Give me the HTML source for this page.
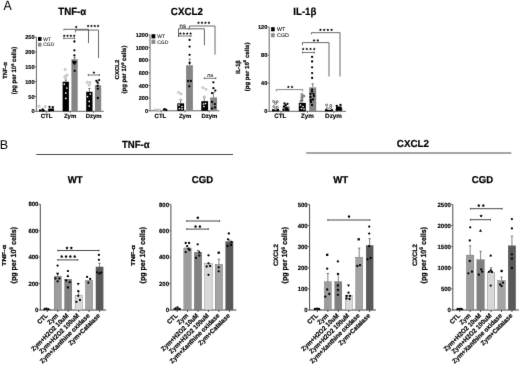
<!DOCTYPE html><html><head><meta charset="utf-8"><style>html,body{margin:0;padding:0;background:#fff;width:520px;height:382px;overflow:hidden}svg{display:block;will-change:transform;text-rendering:geometricPrecision;font-family:"Liberation Sans",sans-serif}</style></head><body>
<svg width="520" height="382" viewBox="0 0 520 382">
<defs><filter id="bl" x="0" y="0" width="1" height="1" color-interpolation-filters="sRGB"><feConvolveMatrix order="3" kernelMatrix="0.0052 0.0619 0.0052 0.0619 0.7314 0.0619 0.0052 0.0619 0.0052" edgeMode="duplicate"/></filter></defs>
<g filter="url(#bl)">
<rect width="520" height="382" fill="#fff"/>
<text x="3.60" y="10.45" font-size="13.6" font-weight="normal" text-anchor="start" fill="#000" textLength="8.2" lengthAdjust="spacingAndGlyphs" >A</text>
<text x="-0.30" y="148.80" font-size="12.6" font-weight="normal" text-anchor="start" fill="#000" >B</text>
<line x1="36.40" y1="111.80" x2="36.40" y2="37.30" stroke="#666" stroke-width="1.0"/>
<line x1="34.70" y1="111.30" x2="36.40" y2="111.30" stroke="#4a4a4a" stroke-width="0.8"/>
<text x="34.50" y="113.32" font-size="5.6" font-weight="bold" text-anchor="end" fill="#000" stroke="#000" stroke-width="0.15" >0</text>
<line x1="34.70" y1="96.50" x2="36.40" y2="96.50" stroke="#4a4a4a" stroke-width="0.8"/>
<text x="34.50" y="98.52" font-size="5.6" font-weight="bold" text-anchor="end" fill="#000" stroke="#000" stroke-width="0.15" >50</text>
<line x1="34.70" y1="81.70" x2="36.40" y2="81.70" stroke="#4a4a4a" stroke-width="0.8"/>
<text x="34.50" y="83.72" font-size="5.6" font-weight="bold" text-anchor="end" fill="#000" stroke="#000" stroke-width="0.15" >100</text>
<line x1="34.70" y1="66.90" x2="36.40" y2="66.90" stroke="#4a4a4a" stroke-width="0.8"/>
<text x="34.50" y="68.92" font-size="5.6" font-weight="bold" text-anchor="end" fill="#000" stroke="#000" stroke-width="0.15" >150</text>
<line x1="34.70" y1="52.10" x2="36.40" y2="52.10" stroke="#4a4a4a" stroke-width="0.8"/>
<text x="34.50" y="54.12" font-size="5.6" font-weight="bold" text-anchor="end" fill="#000" stroke="#000" stroke-width="0.15" >200</text>
<line x1="34.70" y1="37.30" x2="36.40" y2="37.30" stroke="#4a4a4a" stroke-width="0.8"/>
<text x="34.50" y="39.32" font-size="5.6" font-weight="bold" text-anchor="end" fill="#000" stroke="#000" stroke-width="0.15" >250</text>
<line x1="36.40" y1="111.30" x2="103.80" y2="111.30" stroke="#666" stroke-width="1.0"/>
<rect x="39.00" y="110.12" width="6.30" height="1.18" fill="#000"/>
<rect x="47.90" y="108.64" width="6.30" height="2.66" fill="#858585"/>
<rect x="62.60" y="81.70" width="6.30" height="29.60" fill="#000"/>
<rect x="71.40" y="59.20" width="6.30" height="52.10" fill="#858585"/>
<rect x="86.20" y="91.76" width="6.30" height="19.54" fill="#000"/>
<rect x="94.90" y="85.25" width="6.30" height="26.05" fill="#858585"/>
<text x="46.50" y="117.90" font-size="6.0" font-weight="bold" text-anchor="middle" fill="#000" stroke="#000" stroke-width="0.15" >CTL</text>
<line x1="46.60" y1="111.30" x2="46.60" y2="112.80" stroke="#444" stroke-width="0.8"/>
<text x="70.10" y="117.90" font-size="6.0" font-weight="bold" text-anchor="middle" fill="#000" stroke="#000" stroke-width="0.15" >Zym</text>
<line x1="70.15" y1="111.30" x2="70.15" y2="112.80" stroke="#444" stroke-width="0.8"/>
<text x="93.70" y="117.90" font-size="6.0" font-weight="bold" text-anchor="middle" fill="#000" stroke="#000" stroke-width="0.15" >Dzym</text>
<line x1="93.70" y1="111.30" x2="93.70" y2="112.80" stroke="#444" stroke-width="0.8"/>
<rect x="38.00" y="37.00" width="3.50" height="3.90" fill="#000"/>
<rect x="38.00" y="42.70" width="3.50" height="3.90" fill="#8a8a8a"/>
<text x="43.30" y="40.71" font-size="4.9" font-weight="normal" text-anchor="start" fill="#222" stroke="#222" stroke-width="0.12" >WT</text>
<text x="43.30" y="46.41" font-size="4.9" font-weight="normal" text-anchor="start" fill="#333" stroke="#333" stroke-width="0.12" >CGD</text>
<text x="72.25" y="14.75" font-size="10.4" font-weight="bold" text-anchor="middle" fill="#000" stroke="#000" stroke-width="0.2" textLength="28.0" lengthAdjust="spacingAndGlyphs" >TNF-α</text>
<text x="7.40" y="70.50" font-size="5.9" font-weight="bold" text-anchor="middle" fill="#000" stroke="#000" stroke-width="0.22" textLength="16.5" lengthAdjust="spacingAndGlyphs" transform="rotate(-90 7.40 70.50)" >TNF-α</text>
<text x="16.10" y="70.50" font-size="6.3" font-weight="bold" text-anchor="middle" fill="#000" stroke="#000" stroke-width="0.22" textLength="47.7" lengthAdjust="spacingAndGlyphs" transform="rotate(-90 16.10 70.50)" >(pg per 10<tspan font-size="4.2" dy="-2.2">6</tspan><tspan dy="2.2"> cells)</tspan></text>
<line x1="65.80" y1="81.60" x2="65.80" y2="80.00" stroke="#333" stroke-width="0.6"/>
<line x1="64.60" y1="80.00" x2="67.00" y2="80.00" stroke="#333" stroke-width="0.6"/>
<line x1="74.60" y1="59.20" x2="74.60" y2="57.20" stroke="#333" stroke-width="0.6"/>
<line x1="73.40" y1="57.20" x2="75.80" y2="57.20" stroke="#333" stroke-width="0.6"/>
<line x1="89.40" y1="91.80" x2="89.40" y2="88.50" stroke="#333" stroke-width="0.6"/>
<line x1="88.20" y1="88.50" x2="90.60" y2="88.50" stroke="#333" stroke-width="0.6"/>
<line x1="98.00" y1="85.30" x2="98.00" y2="83.50" stroke="#333" stroke-width="0.6"/>
<line x1="96.80" y1="83.50" x2="99.20" y2="83.50" stroke="#333" stroke-width="0.6"/>
<circle cx="39.10" cy="106.20" r="1.03" fill="#fff" stroke="#8a8a8a" stroke-width="0.6"/>
<circle cx="45.20" cy="106.60" r="1.03" fill="#fff" stroke="#8a8a8a" stroke-width="0.6"/>
<circle cx="40.00" cy="110.30" r="1.15" fill="#000"/>
<circle cx="42.50" cy="109.30" r="1.15" fill="#000"/>
<circle cx="43.50" cy="110.40" r="1.15" fill="#000"/>
<circle cx="49.50" cy="106.80" r="1.15" fill="#000"/>
<circle cx="52.80" cy="107.20" r="1.15" fill="#000"/>
<circle cx="50.30" cy="109.80" r="1.15" fill="#000"/>
<circle cx="52.60" cy="109.80" r="1.15" fill="#000"/>
<circle cx="49.30" cy="110.40" r="1.15" fill="#000"/>
<circle cx="65.20" cy="69.50" r="1.03" fill="#fff" stroke="#8a8a8a" stroke-width="0.6"/>
<circle cx="64.70" cy="76.60" r="1.03" fill="#fff" stroke="#8a8a8a" stroke-width="0.6"/>
<circle cx="67.00" cy="75.10" r="1.03" fill="#fff" stroke="#8a8a8a" stroke-width="0.6"/>
<circle cx="65.50" cy="77.80" r="1.03" fill="#fff" stroke="#8a8a8a" stroke-width="0.6"/>
<circle cx="64.30" cy="84.10" r="0.8624999999999999" fill="#fff"/>
<circle cx="65.80" cy="93.10" r="0.8624999999999999" fill="#fff"/>
<circle cx="65.80" cy="98.30" r="0.8624999999999999" fill="#fff"/>
<circle cx="66.80" cy="88.00" r="0.8624999999999999" fill="#fff"/>
<circle cx="74.40" cy="41.50" r="1.15" fill="#000"/>
<circle cx="74.40" cy="50.30" r="1.15" fill="#000"/>
<circle cx="74.40" cy="55.30" r="1.15" fill="#000"/>
<circle cx="73.60" cy="61.70" r="1.15" fill="#000"/>
<circle cx="75.60" cy="62.20" r="1.15" fill="#000"/>
<circle cx="74.50" cy="63.70" r="1.15" fill="#000"/>
<circle cx="74.70" cy="70.80" r="1.15" fill="#000"/>
<circle cx="73.50" cy="62.50" r="1.15" fill="#000"/>
<circle cx="87.20" cy="82.40" r="1.03" fill="#fff" stroke="#8a8a8a" stroke-width="0.6"/>
<circle cx="90.10" cy="82.40" r="1.03" fill="#fff" stroke="#8a8a8a" stroke-width="0.6"/>
<circle cx="89.20" cy="85.30" r="1.03" fill="#fff" stroke="#8a8a8a" stroke-width="0.6"/>
<circle cx="90.30" cy="94.00" r="0.8624999999999999" fill="#fff"/>
<circle cx="87.50" cy="96.60" r="0.8624999999999999" fill="#fff"/>
<circle cx="89.20" cy="101.40" r="0.8624999999999999" fill="#fff"/>
<circle cx="89.20" cy="106.00" r="0.8624999999999999" fill="#fff"/>
<circle cx="96.40" cy="80.90" r="1.15" fill="#000"/>
<circle cx="99.10" cy="80.10" r="1.15" fill="#000"/>
<circle cx="97.60" cy="82.40" r="1.15" fill="#000"/>
<circle cx="97.60" cy="85.90" r="1.15" fill="#000"/>
<circle cx="97.80" cy="88.80" r="1.15" fill="#000"/>
<circle cx="97.80" cy="98.00" r="1.15" fill="#000"/>
<rect x="48.60" y="108.60" width="5.20" height="2.50" fill="#000"/>
<line x1="63.80" y1="38.30" x2="74.60" y2="38.30" stroke="#555" stroke-width="0.8"/>
<line x1="63.80" y1="37.40" x2="63.80" y2="39.20" stroke="#333" stroke-width="0.8"/>
<line x1="74.60" y1="37.40" x2="74.60" y2="39.20" stroke="#333" stroke-width="0.8"/>
<polygon points="64.20,34.30 64.65,35.19 65.63,35.34 64.92,36.03 65.09,37.01 64.20,36.55 63.32,37.01 63.49,36.03 62.78,35.34 63.76,35.19" fill="#000"/>
<polygon points="67.53,34.30 67.98,35.19 68.96,35.34 68.25,36.03 68.42,37.01 67.53,36.55 66.65,37.01 66.82,36.03 66.11,35.34 67.09,35.19" fill="#000"/>
<polygon points="70.86,34.30 71.31,35.19 72.29,35.34 71.58,36.03 71.75,37.01 70.86,36.55 69.98,37.01 70.15,36.03 69.44,35.34 70.42,35.19" fill="#000"/>
<polygon points="74.19,34.30 74.64,35.19 75.62,35.34 74.91,36.03 75.08,37.01 74.19,36.55 73.31,37.01 73.48,36.03 72.77,35.34 73.75,35.19" fill="#000"/>
<polyline points="63.80,30.50 63.80,29.30 88.50,29.30 88.50,43.10" fill="none" stroke="#555" stroke-width="0.9"/>
<polyline points="75.40,32.40 75.40,30.10 98.50,30.10 98.50,58.10" fill="none" stroke="#5a5a5a" stroke-width="0.9"/>
<polygon points="76.20,25.50 76.64,26.39 77.63,26.54 76.91,27.23 77.08,28.21 76.20,27.75 75.32,28.21 75.49,27.23 74.77,26.54 75.76,26.39" fill="#000"/>
<polygon points="88.10,24.50 88.55,25.39 89.53,25.54 88.82,26.23 88.99,27.21 88.10,26.75 87.22,27.21 87.39,26.23 86.68,25.54 87.66,25.39" fill="#000"/>
<polygon points="91.43,24.50 91.88,25.39 92.86,25.54 92.15,26.23 92.32,27.21 91.43,26.75 90.55,27.21 90.72,26.23 90.01,25.54 90.99,25.39" fill="#000"/>
<polygon points="94.76,24.50 95.21,25.39 96.19,25.54 95.48,26.23 95.65,27.21 94.76,26.75 93.88,27.21 94.05,26.23 93.34,25.54 94.32,25.39" fill="#000"/>
<polygon points="98.09,24.50 98.54,25.39 99.52,25.54 98.81,26.23 98.98,27.21 98.09,26.75 97.21,27.21 97.38,26.23 96.67,25.54 97.65,25.39" fill="#000"/>
<line x1="88.30" y1="75.00" x2="99.30" y2="75.00" stroke="#555" stroke-width="0.8"/>
<line x1="88.30" y1="74.10" x2="88.30" y2="75.90" stroke="#333" stroke-width="0.8"/>
<line x1="99.30" y1="74.10" x2="99.30" y2="75.90" stroke="#333" stroke-width="0.8"/>
<polygon points="93.90,71.00 94.34,71.89 95.33,72.04 94.61,72.73 94.78,73.71 93.90,73.25 93.02,73.71 93.19,72.73 92.47,72.04 93.46,71.89" fill="#000"/>
<line x1="150.00" y1="111.30" x2="150.00" y2="34.90" stroke="#666" stroke-width="1.0"/>
<line x1="148.30" y1="110.80" x2="150.00" y2="110.80" stroke="#4a4a4a" stroke-width="0.8"/>
<text x="148.10" y="112.82" font-size="5.6" font-weight="bold" text-anchor="end" fill="#000" stroke="#000" stroke-width="0.15" >0</text>
<line x1="148.30" y1="98.15" x2="150.00" y2="98.15" stroke="#4a4a4a" stroke-width="0.8"/>
<text x="148.10" y="100.17" font-size="5.6" font-weight="bold" text-anchor="end" fill="#000" stroke="#000" stroke-width="0.15" >200</text>
<line x1="148.30" y1="85.50" x2="150.00" y2="85.50" stroke="#4a4a4a" stroke-width="0.8"/>
<text x="148.10" y="87.52" font-size="5.6" font-weight="bold" text-anchor="end" fill="#000" stroke="#000" stroke-width="0.15" >400</text>
<line x1="148.30" y1="72.85" x2="150.00" y2="72.85" stroke="#4a4a4a" stroke-width="0.8"/>
<text x="148.10" y="74.87" font-size="5.6" font-weight="bold" text-anchor="end" fill="#000" stroke="#000" stroke-width="0.15" >600</text>
<line x1="148.30" y1="60.20" x2="150.00" y2="60.20" stroke="#4a4a4a" stroke-width="0.8"/>
<text x="148.10" y="62.22" font-size="5.6" font-weight="bold" text-anchor="end" fill="#000" stroke="#000" stroke-width="0.15" >800</text>
<line x1="148.30" y1="47.55" x2="150.00" y2="47.55" stroke="#4a4a4a" stroke-width="0.8"/>
<text x="148.10" y="49.57" font-size="5.6" font-weight="bold" text-anchor="end" fill="#000" stroke="#000" stroke-width="0.15" >1000</text>
<line x1="148.30" y1="34.90" x2="150.00" y2="34.90" stroke="#4a4a4a" stroke-width="0.8"/>
<text x="148.10" y="36.92" font-size="5.6" font-weight="bold" text-anchor="end" fill="#000" stroke="#000" stroke-width="0.15" >1200</text>
<line x1="150.00" y1="110.80" x2="219.40" y2="110.80" stroke="#666" stroke-width="1.0"/>
<rect x="153.20" y="110.55" width="6.80" height="0.25" fill="#000"/>
<rect x="162.20" y="110.04" width="6.80" height="0.76" fill="#858585"/>
<rect x="177.30" y="103.34" width="6.80" height="7.46" fill="#000"/>
<rect x="186.10" y="65.26" width="6.80" height="45.54" fill="#858585"/>
<rect x="201.30" y="101.19" width="6.80" height="9.61" fill="#000"/>
<rect x="210.20" y="97.39" width="6.80" height="13.41" fill="#858585"/>
<text x="160.40" y="117.80" font-size="6.0" font-weight="bold" text-anchor="middle" fill="#000" stroke="#000" stroke-width="0.15" >CTL</text>
<line x1="161.10" y1="110.80" x2="161.10" y2="112.30" stroke="#444" stroke-width="0.8"/>
<text x="185.10" y="117.80" font-size="6.0" font-weight="bold" text-anchor="middle" fill="#000" stroke="#000" stroke-width="0.15" >Zym</text>
<line x1="185.10" y1="110.80" x2="185.10" y2="112.30" stroke="#444" stroke-width="0.8"/>
<text x="209.40" y="117.80" font-size="6.0" font-weight="bold" text-anchor="middle" fill="#000" stroke="#000" stroke-width="0.15" >Dzym</text>
<line x1="209.15" y1="110.80" x2="209.15" y2="112.30" stroke="#444" stroke-width="0.8"/>
<rect x="151.50" y="34.20" width="3.80" height="4.20" fill="#000"/>
<rect x="151.50" y="39.70" width="3.80" height="4.20" fill="#8a8a8a"/>
<text x="157.20" y="38.10" font-size="5.0" font-weight="normal" text-anchor="start" fill="#222" stroke="#222" stroke-width="0.12" >WT</text>
<text x="157.20" y="43.60" font-size="5.0" font-weight="normal" text-anchor="start" fill="#333" stroke="#333" stroke-width="0.12" >CGD</text>
<text x="186.85" y="14.75" font-size="10.4" font-weight="bold" text-anchor="middle" fill="#000" stroke="#000" stroke-width="0.2" textLength="32.0" lengthAdjust="spacingAndGlyphs" >CXCL2</text>
<text x="118.50" y="69.50" font-size="5.6" font-weight="bold" text-anchor="middle" fill="#000" stroke="#000" stroke-width="0.22" textLength="19.8" lengthAdjust="spacingAndGlyphs" transform="rotate(-90 118.50 69.50)" >CXCL2</text>
<text x="126.20" y="69.50" font-size="6.2" font-weight="bold" text-anchor="middle" fill="#000" stroke="#000" stroke-width="0.22" textLength="47.8" lengthAdjust="spacingAndGlyphs" transform="rotate(-90 126.20 69.50)" >(pg per 10<tspan font-size="4.2" dy="-2.2">6</tspan><tspan dy="2.2"> cells)</tspan></text>
<line x1="180.50" y1="103.30" x2="180.50" y2="99.80" stroke="#333" stroke-width="0.6"/>
<line x1="179.30" y1="99.80" x2="181.70" y2="99.80" stroke="#333" stroke-width="0.6"/>
<line x1="189.70" y1="65.00" x2="189.70" y2="59.00" stroke="#333" stroke-width="0.6"/>
<line x1="188.50" y1="59.00" x2="190.90" y2="59.00" stroke="#333" stroke-width="0.6"/>
<line x1="204.30" y1="101.30" x2="204.30" y2="97.00" stroke="#333" stroke-width="0.6"/>
<line x1="203.10" y1="97.00" x2="205.50" y2="97.00" stroke="#333" stroke-width="0.6"/>
<line x1="213.50" y1="97.30" x2="213.50" y2="92.50" stroke="#333" stroke-width="0.6"/>
<line x1="212.30" y1="92.50" x2="214.70" y2="92.50" stroke="#333" stroke-width="0.6"/>
<circle cx="155.10" cy="110.00" r="1.03" fill="#fff" stroke="#8a8a8a" stroke-width="0.6"/>
<circle cx="157.70" cy="110.00" r="1.03" fill="#fff" stroke="#8a8a8a" stroke-width="0.6"/>
<circle cx="159.50" cy="110.20" r="1.03" fill="#fff" stroke="#8a8a8a" stroke-width="0.6"/>
<circle cx="164.00" cy="109.50" r="1.15" fill="#000"/>
<circle cx="166.30" cy="110.00" r="1.15" fill="#000"/>
<circle cx="165.00" cy="109.30" r="1.15" fill="#000"/>
<circle cx="178.50" cy="92.40" r="1.03" fill="#fff" stroke="#8a8a8a" stroke-width="0.6"/>
<circle cx="181.00" cy="93.90" r="1.03" fill="#fff" stroke="#8a8a8a" stroke-width="0.6"/>
<circle cx="181.00" cy="99.90" r="1.03" fill="#fff" stroke="#8a8a8a" stroke-width="0.6"/>
<circle cx="179.00" cy="105.00" r="0.8624999999999999" fill="#fff"/>
<circle cx="182.00" cy="106.50" r="0.8624999999999999" fill="#fff"/>
<circle cx="179.50" cy="108.50" r="0.8624999999999999" fill="#fff"/>
<circle cx="182.00" cy="108.80" r="0.8624999999999999" fill="#fff"/>
<circle cx="189.60" cy="39.90" r="1.15" fill="#000"/>
<circle cx="189.60" cy="46.60" r="1.15" fill="#000"/>
<circle cx="189.60" cy="54.80" r="1.15" fill="#000"/>
<circle cx="189.60" cy="63.00" r="1.15" fill="#000"/>
<circle cx="188.10" cy="81.00" r="1.15" fill="#000"/>
<circle cx="190.90" cy="81.00" r="1.15" fill="#000"/>
<circle cx="189.20" cy="86.30" r="1.15" fill="#000"/>
<circle cx="202.80" cy="87.60" r="1.03" fill="#fff" stroke="#8a8a8a" stroke-width="0.6"/>
<circle cx="205.90" cy="89.30" r="1.03" fill="#fff" stroke="#8a8a8a" stroke-width="0.6"/>
<circle cx="204.30" cy="97.00" r="1.03" fill="#fff" stroke="#8a8a8a" stroke-width="0.6"/>
<circle cx="203.50" cy="104.00" r="0.8624999999999999" fill="#fff"/>
<circle cx="205.50" cy="103.50" r="0.8624999999999999" fill="#fff"/>
<circle cx="204.00" cy="106.50" r="0.8624999999999999" fill="#fff"/>
<circle cx="213.40" cy="82.30" r="1.15" fill="#000"/>
<circle cx="213.40" cy="88.20" r="1.15" fill="#000"/>
<circle cx="215.30" cy="90.60" r="1.15" fill="#000"/>
<circle cx="212.00" cy="93.10" r="1.15" fill="#000"/>
<circle cx="212.00" cy="102.00" r="1.15" fill="#000"/>
<circle cx="214.90" cy="104.10" r="1.15" fill="#000"/>
<circle cx="212.00" cy="108.50" r="1.15" fill="#000"/>
<circle cx="215.00" cy="107.40" r="1.15" fill="#000"/>
<polyline points="178.50,36.00 178.50,28.80 204.40,28.80 204.40,45.30" fill="none" stroke="#555" stroke-width="0.9"/>
<polyline points="189.30,29.70 189.30,26.00 215.00,26.00 215.00,54.70" fill="none" stroke="#5a5a5a" stroke-width="0.9"/>
<text x="182.80" y="28.10" font-size="6.2" font-weight="normal" text-anchor="middle" fill="#222" stroke="#222" stroke-width="0.15" >ns</text>
<polygon points="198.49,21.30 198.94,22.19 199.92,22.34 199.21,23.03 199.38,24.01 198.49,23.55 197.61,24.01 197.78,23.03 197.07,22.34 198.05,22.19" fill="#000"/>
<polygon points="201.96,21.30 202.41,22.19 203.39,22.34 202.68,23.03 202.85,24.01 201.96,23.55 201.08,24.01 201.25,23.03 200.54,22.34 201.52,22.19" fill="#000"/>
<polygon points="205.43,21.30 205.88,22.19 206.86,22.34 206.15,23.03 206.32,24.01 205.43,23.55 204.55,24.01 204.72,23.03 204.01,22.34 204.99,22.19" fill="#000"/>
<polygon points="208.90,21.30 209.35,22.19 210.33,22.34 209.62,23.03 209.79,24.01 208.90,23.55 208.02,24.01 208.19,23.03 207.48,22.34 208.46,22.19" fill="#000"/>
<line x1="178.50" y1="36.00" x2="191.00" y2="36.00" stroke="#555" stroke-width="0.8"/>
<line x1="178.50" y1="35.10" x2="178.50" y2="36.90" stroke="#333" stroke-width="0.8"/>
<line x1="191.00" y1="35.10" x2="191.00" y2="36.90" stroke="#333" stroke-width="0.8"/>
<polygon points="180.40,32.10 180.84,32.99 181.83,33.14 181.11,33.83 181.28,34.81 180.40,34.35 179.52,34.81 179.69,33.83 178.97,33.14 179.96,32.99" fill="#000"/>
<polygon points="183.80,32.10 184.24,32.99 185.23,33.14 184.51,33.83 184.68,34.81 183.80,34.35 182.92,34.81 183.09,33.83 182.37,33.14 183.36,32.99" fill="#000"/>
<polygon points="187.20,32.10 187.64,32.99 188.63,33.14 187.91,33.83 188.08,34.81 187.20,34.35 186.32,34.81 186.49,33.83 185.77,33.14 186.76,32.99" fill="#000"/>
<polygon points="190.60,32.10 191.04,32.99 192.03,33.14 191.31,33.83 191.48,34.81 190.60,34.35 189.72,34.81 189.89,33.83 189.17,33.14 190.16,32.99" fill="#000"/>
<line x1="204.30" y1="78.30" x2="215.80" y2="78.30" stroke="#555" stroke-width="0.8"/>
<line x1="204.30" y1="77.40" x2="204.30" y2="79.20" stroke="#333" stroke-width="0.8"/>
<line x1="215.80" y1="77.40" x2="215.80" y2="79.20" stroke="#333" stroke-width="0.8"/>
<text x="210.30" y="76.90" font-size="5.6" font-weight="normal" text-anchor="middle" fill="#333" stroke="#333" stroke-width="0.12" font-style="italic">ns</text>
<line x1="269.20" y1="111.80" x2="269.20" y2="27.00" stroke="#666" stroke-width="1.0"/>
<line x1="267.50" y1="111.30" x2="269.20" y2="111.30" stroke="#4a4a4a" stroke-width="0.8"/>
<text x="267.30" y="113.32" font-size="5.6" font-weight="bold" text-anchor="end" fill="#000" stroke="#000" stroke-width="0.15" >0</text>
<line x1="267.50" y1="83.20" x2="269.20" y2="83.20" stroke="#4a4a4a" stroke-width="0.8"/>
<text x="267.30" y="85.22" font-size="5.6" font-weight="bold" text-anchor="end" fill="#000" stroke="#000" stroke-width="0.15" >40</text>
<line x1="267.50" y1="55.10" x2="269.20" y2="55.10" stroke="#4a4a4a" stroke-width="0.8"/>
<text x="267.30" y="57.12" font-size="5.6" font-weight="bold" text-anchor="end" fill="#000" stroke="#000" stroke-width="0.15" >80</text>
<line x1="267.50" y1="27.00" x2="269.20" y2="27.00" stroke="#4a4a4a" stroke-width="0.8"/>
<text x="267.30" y="29.02" font-size="5.6" font-weight="bold" text-anchor="end" fill="#000" stroke="#000" stroke-width="0.15" >120</text>
<line x1="269.20" y1="111.30" x2="346.00" y2="111.30" stroke="#666" stroke-width="1.0"/>
<rect x="272.30" y="109.89" width="7.00" height="1.41" fill="#000"/>
<rect x="282.60" y="106.38" width="7.00" height="4.92" fill="#858585"/>
<rect x="298.80" y="102.87" width="7.00" height="8.43" fill="#000"/>
<rect x="309.20" y="87.41" width="7.00" height="23.89" fill="#858585"/>
<rect x="325.30" y="109.89" width="7.00" height="1.41" fill="#000"/>
<rect x="335.50" y="108.49" width="7.00" height="2.81" fill="#858585"/>
<text x="280.30" y="118.30" font-size="6.3" font-weight="bold" text-anchor="middle" fill="#000" stroke="#000" stroke-width="0.15" >CTL</text>
<line x1="280.95" y1="111.30" x2="280.95" y2="112.80" stroke="#444" stroke-width="0.8"/>
<text x="307.40" y="118.30" font-size="6.3" font-weight="bold" text-anchor="middle" fill="#000" stroke="#000" stroke-width="0.15" >Zym</text>
<line x1="307.50" y1="111.30" x2="307.50" y2="112.80" stroke="#444" stroke-width="0.8"/>
<text x="333.50" y="118.30" font-size="6.3" font-weight="bold" text-anchor="middle" fill="#000" stroke="#000" stroke-width="0.15" >Dzym</text>
<line x1="333.90" y1="111.30" x2="333.90" y2="112.80" stroke="#444" stroke-width="0.8"/>
<rect x="271.10" y="27.20" width="3.60" height="4.10" fill="#000"/>
<rect x="271.10" y="33.20" width="3.60" height="4.10" fill="#8a8a8a"/>
<text x="277.10" y="31.16" font-size="5.3" font-weight="normal" text-anchor="start" fill="#222" stroke="#222" stroke-width="0.12" >WT</text>
<text x="277.10" y="37.16" font-size="5.3" font-weight="normal" text-anchor="start" fill="#333" stroke="#333" stroke-width="0.12" >CGD</text>
<text x="304.85" y="14.75" font-size="10.4" font-weight="bold" text-anchor="middle" fill="#000" stroke="#000" stroke-width="0.2" textLength="23.0" lengthAdjust="spacingAndGlyphs" >IL-1β</text>
<text x="240.40" y="67.00" font-size="6.0" font-weight="bold" text-anchor="middle" fill="#000" stroke="#000" stroke-width="0.22" textLength="13.3" lengthAdjust="spacingAndGlyphs" transform="rotate(-90 240.40 67.00)" >IL-1β</text>
<text x="248.70" y="66.90" font-size="5.9" font-weight="bold" text-anchor="middle" fill="#000" stroke="#000" stroke-width="0.22" textLength="48.8" lengthAdjust="spacingAndGlyphs" transform="rotate(-90 248.70 66.90)" >(pg per 10<tspan font-size="4.2" dy="-2.2">6</tspan><tspan dy="2.2"> cells)</tspan></text>
<line x1="312.70" y1="87.10" x2="312.70" y2="83.80" stroke="#333" stroke-width="0.6"/>
<line x1="311.50" y1="83.80" x2="313.90" y2="83.80" stroke="#333" stroke-width="0.6"/>
<line x1="302.20" y1="102.40" x2="302.20" y2="100.50" stroke="#333" stroke-width="0.6"/>
<line x1="301.00" y1="100.50" x2="303.40" y2="100.50" stroke="#333" stroke-width="0.6"/>
<circle cx="273.60" cy="101.40" r="1.03" fill="#fff" stroke="#333" stroke-width="0.7"/>
<circle cx="277.20" cy="101.70" r="1.03" fill="#fff" stroke="#333" stroke-width="0.7"/>
<circle cx="275.50" cy="103.40" r="1.03" fill="#fff" stroke="#333" stroke-width="0.7"/>
<circle cx="273.80" cy="106.60" r="1.03" fill="#fff" stroke="#333" stroke-width="0.7"/>
<circle cx="277.30" cy="107.20" r="1.03" fill="#fff" stroke="#333" stroke-width="0.7"/>
<circle cx="275.60" cy="109.20" r="1.03" fill="#fff" stroke="#333" stroke-width="0.7"/>
<circle cx="273.00" cy="110.20" r="1.15" fill="#000"/>
<circle cx="278.00" cy="110.00" r="1.15" fill="#000"/>
<circle cx="284.50" cy="103.50" r="1.15" fill="#000"/>
<circle cx="287.50" cy="103.80" r="1.15" fill="#000"/>
<circle cx="284.00" cy="106.50" r="1.15" fill="#000"/>
<circle cx="287.30" cy="108.60" r="1.15" fill="#000"/>
<circle cx="283.50" cy="110.00" r="1.15" fill="#000"/>
<circle cx="286.00" cy="110.00" r="1.15" fill="#000"/>
<circle cx="285.80" cy="105.20" r="1.15" fill="#000"/>
<circle cx="286.00" cy="107.80" r="1.15" fill="#000"/>
<circle cx="288.00" cy="110.20" r="1.15" fill="#000"/>
<circle cx="301.90" cy="94.50" r="1.03" fill="#fff" stroke="#333" stroke-width="0.7"/>
<circle cx="301.90" cy="97.00" r="1.03" fill="#fff" stroke="#333" stroke-width="0.7"/>
<circle cx="301.90" cy="99.10" r="1.03" fill="#fff" stroke="#333" stroke-width="0.7"/>
<circle cx="303.90" cy="96.10" r="1.03" fill="#fff" stroke="#333" stroke-width="0.7"/>
<circle cx="301.00" cy="101.20" r="1.03" fill="#fff" stroke="#333" stroke-width="0.7"/>
<circle cx="300.50" cy="105.00" r="0.8624999999999999" fill="#fff"/>
<circle cx="303.00" cy="106.50" r="0.8624999999999999" fill="#fff"/>
<circle cx="301.50" cy="108.50" r="0.8624999999999999" fill="#fff"/>
<circle cx="304.00" cy="109.00" r="0.8624999999999999" fill="#fff"/>
<circle cx="312.10" cy="56.90" r="1.15" fill="#000"/>
<circle cx="312.10" cy="61.50" r="1.15" fill="#000"/>
<circle cx="312.10" cy="67.30" r="1.15" fill="#000"/>
<circle cx="312.10" cy="73.10" r="1.15" fill="#000"/>
<circle cx="312.10" cy="78.00" r="1.15" fill="#000"/>
<circle cx="312.10" cy="89.60" r="1.15" fill="#000"/>
<circle cx="310.50" cy="93.80" r="1.15" fill="#000"/>
<circle cx="313.50" cy="93.80" r="1.15" fill="#000"/>
<circle cx="310.50" cy="97.00" r="1.15" fill="#000"/>
<circle cx="313.00" cy="99.50" r="1.15" fill="#000"/>
<circle cx="311.00" cy="102.00" r="1.15" fill="#000"/>
<circle cx="312.00" cy="105.00" r="1.15" fill="#000"/>
<circle cx="314.00" cy="96.00" r="1.15" fill="#000"/>
<circle cx="312.00" cy="91.50" r="1.15" fill="#000"/>
<circle cx="310.80" cy="100.00" r="1.15" fill="#000"/>
<circle cx="326.60" cy="105.10" r="1.03" fill="#fff" stroke="#333" stroke-width="0.7"/>
<circle cx="330.80" cy="105.40" r="1.03" fill="#fff" stroke="#333" stroke-width="0.7"/>
<circle cx="330.50" cy="107.60" r="1.03" fill="#fff" stroke="#333" stroke-width="0.7"/>
<circle cx="327.20" cy="108.60" r="1.03" fill="#fff" stroke="#333" stroke-width="0.7"/>
<circle cx="326.00" cy="110.20" r="1.15" fill="#000"/>
<circle cx="332.00" cy="110.20" r="1.15" fill="#000"/>
<circle cx="336.80" cy="106.00" r="1.15" fill="#000"/>
<circle cx="340.50" cy="105.00" r="1.15" fill="#000"/>
<circle cx="338.00" cy="108.50" r="1.15" fill="#000"/>
<circle cx="340.50" cy="109.50" r="1.15" fill="#000"/>
<circle cx="336.80" cy="110.00" r="1.15" fill="#000"/>
<rect x="336.00" y="106.50" width="5.70" height="4.20" fill="#000"/>
<polyline points="311.40,34.40 311.40,32.70 340.00,32.70 340.00,76.50" fill="none" stroke="#5a5a5a" stroke-width="0.9"/>
<polygon points="320.45,28.40 320.89,29.29 321.88,29.44 321.16,30.13 321.33,31.11 320.45,30.65 319.57,31.11 319.74,30.13 319.02,29.44 320.01,29.29" fill="#000"/>
<polygon points="324.15,28.40 324.59,29.29 325.58,29.44 324.86,30.13 325.03,31.11 324.15,30.65 323.27,31.11 323.44,30.13 322.72,29.44 323.71,29.29" fill="#000"/>
<polygon points="327.85,28.40 328.29,29.29 329.28,29.44 328.56,30.13 328.73,31.11 327.85,30.65 326.97,31.11 327.14,30.13 326.42,29.44 327.41,29.29" fill="#000"/>
<polygon points="331.55,28.40 331.99,29.29 332.98,29.44 332.26,30.13 332.43,31.11 331.55,30.65 330.67,31.11 330.84,30.13 330.12,29.44 331.11,29.29" fill="#000"/>
<polyline points="302.50,45.20 302.50,42.60 329.00,42.60 329.00,76.50" fill="none" stroke="#5a5a5a" stroke-width="0.9"/>
<polygon points="314.05,38.90 314.49,39.79 315.48,39.94 314.76,40.63 314.93,41.61 314.05,41.15 313.17,41.61 313.34,40.63 312.62,39.94 313.61,39.79" fill="#000"/>
<polygon points="317.75,38.90 318.19,39.79 319.18,39.94 318.46,40.63 318.63,41.61 317.75,41.15 316.87,41.61 317.04,40.63 316.32,39.94 317.31,39.79" fill="#000"/>
<line x1="302.50" y1="52.50" x2="314.30" y2="52.50" stroke="#555" stroke-width="0.8"/>
<line x1="302.50" y1="51.60" x2="302.50" y2="53.40" stroke="#333" stroke-width="0.8"/>
<line x1="314.30" y1="51.60" x2="314.30" y2="53.40" stroke="#333" stroke-width="0.8"/>
<polygon points="303.15,47.60 303.59,48.49 304.58,48.64 303.86,49.33 304.03,50.31 303.15,49.85 302.27,50.31 302.44,49.33 301.72,48.64 302.71,48.49" fill="#000"/>
<polygon points="306.85,47.60 307.29,48.49 308.28,48.64 307.56,49.33 307.73,50.31 306.85,49.85 305.97,50.31 306.14,49.33 305.42,48.64 306.41,48.49" fill="#000"/>
<polygon points="310.55,47.60 310.99,48.49 311.98,48.64 311.26,49.33 311.43,50.31 310.55,49.85 309.67,50.31 309.84,49.33 309.12,48.64 310.11,48.49" fill="#000"/>
<polygon points="314.25,47.60 314.69,48.49 315.68,48.64 314.96,49.33 315.13,50.31 314.25,49.85 313.37,50.31 313.54,49.33 312.82,48.64 313.81,48.49" fill="#000"/>
<polyline points="276.20,91.40 276.20,89.60 302.60,89.60 302.60,91.40" fill="none" stroke="#555" stroke-width="0.7"/>
<polygon points="288.35,85.50 288.79,86.39 289.78,86.54 289.06,87.23 289.23,88.21 288.35,87.75 287.47,88.21 287.64,87.23 286.92,86.54 287.91,86.39" fill="#000"/>
<polygon points="292.05,85.50 292.49,86.39 293.48,86.54 292.76,87.23 292.93,88.21 292.05,87.75 291.17,88.21 291.34,87.23 290.62,86.54 291.61,86.39" fill="#000"/>
<text x="135.85" y="147.60" font-size="10.3" font-weight="bold" text-anchor="middle" fill="#000" stroke="#000" stroke-width="0.2" textLength="27.7" lengthAdjust="spacingAndGlyphs" >TNF-α</text>
<line x1="36.25" y1="154.50" x2="233.00" y2="154.50" stroke="#4a4a4a" stroke-width="1.2"/>
<text x="412.85" y="147.00" font-size="10.2" font-weight="bold" text-anchor="middle" fill="#000" stroke="#000" stroke-width="0.2" textLength="32.0" lengthAdjust="spacingAndGlyphs" >CXCL2</text>
<line x1="306.20" y1="153.00" x2="511.30" y2="153.00" stroke="#4a4a4a" stroke-width="1.2"/>
<text x="75.20" y="182.80" font-size="9.8" font-weight="bold" text-anchor="middle" fill="#000" stroke="#000" stroke-width="0.25" textLength="14.9" lengthAdjust="spacingAndGlyphs" >WT</text>
<text x="202.45" y="183.10" font-size="10.0" font-weight="bold" text-anchor="middle" fill="#000" stroke="#000" stroke-width="0.25" textLength="21.2" lengthAdjust="spacingAndGlyphs" >CGD</text>
<text x="340.75" y="182.80" font-size="9.8" font-weight="bold" text-anchor="middle" fill="#000" stroke="#000" stroke-width="0.25" textLength="14.9" lengthAdjust="spacingAndGlyphs" >WT</text>
<text x="482.45" y="183.10" font-size="10.0" font-weight="bold" text-anchor="middle" fill="#000" stroke="#000" stroke-width="0.25" textLength="21.2" lengthAdjust="spacingAndGlyphs" >CGD</text>
<line x1="40.30" y1="310.50" x2="40.30" y2="204.30" stroke="#4a4a4a" stroke-width="1.0"/>
<line x1="38.60" y1="310.00" x2="40.30" y2="310.00" stroke="#4a4a4a" stroke-width="0.8"/>
<text x="38.40" y="312.16" font-size="6.0" font-weight="bold" text-anchor="end" fill="#000" stroke="#000" stroke-width="0.15" >0</text>
<line x1="38.60" y1="283.57" x2="40.30" y2="283.57" stroke="#4a4a4a" stroke-width="0.8"/>
<text x="38.40" y="285.74" font-size="6.0" font-weight="bold" text-anchor="end" fill="#000" stroke="#000" stroke-width="0.15" >200</text>
<line x1="38.60" y1="257.15" x2="40.30" y2="257.15" stroke="#4a4a4a" stroke-width="0.8"/>
<text x="38.40" y="259.31" font-size="6.0" font-weight="bold" text-anchor="end" fill="#000" stroke="#000" stroke-width="0.15" >400</text>
<line x1="38.60" y1="230.73" x2="40.30" y2="230.73" stroke="#4a4a4a" stroke-width="0.8"/>
<text x="38.40" y="232.89" font-size="6.0" font-weight="bold" text-anchor="end" fill="#000" stroke="#000" stroke-width="0.15" >600</text>
<line x1="38.60" y1="204.30" x2="40.30" y2="204.30" stroke="#4a4a4a" stroke-width="0.8"/>
<text x="38.40" y="206.46" font-size="6.0" font-weight="bold" text-anchor="end" fill="#000" stroke="#000" stroke-width="0.15" >800</text>
<line x1="40.30" y1="310.00" x2="106.20" y2="310.00" stroke="#4a4a4a" stroke-width="1.15"/>
<rect x="43.70" y="309.60" width="7.20" height="0.40" fill="#222" stroke="#555" stroke-width="0.3"/>
<line x1="47.30" y1="310.00" x2="47.30" y2="311.90" stroke="#333" stroke-width="0.9"/>
<text x="48.30" y="316.10" font-size="6.5" font-weight="bold" text-anchor="end" fill="#000" stroke="#000" stroke-width="0.2" textLength="12.05" lengthAdjust="spacingAndGlyphs" transform="rotate(-45 48.30 316.10)" >CTL</text>
<rect x="54.15" y="276.18" width="7.20" height="33.82" fill="#9c9c9c" stroke="#555" stroke-width="0.3"/>
<line x1="57.75" y1="276.18" x2="57.75" y2="273.67" stroke="#333" stroke-width="0.6"/>
<line x1="56.55" y1="273.67" x2="58.95" y2="273.67" stroke="#333" stroke-width="0.6"/>
<line x1="57.75" y1="310.00" x2="57.75" y2="311.90" stroke="#333" stroke-width="0.9"/>
<text x="58.75" y="316.10" font-size="6.5" font-weight="bold" text-anchor="end" fill="#000" stroke="#000" stroke-width="0.2" textLength="12.75" lengthAdjust="spacingAndGlyphs" transform="rotate(-45 58.75 316.10)" >Zym</text>
<rect x="64.60" y="279.21" width="7.20" height="30.79" fill="#818181" stroke="#555" stroke-width="0.3"/>
<line x1="68.20" y1="310.00" x2="68.20" y2="311.90" stroke="#333" stroke-width="0.9"/>
<text x="69.20" y="316.10" font-size="6.5" font-weight="bold" text-anchor="end" fill="#000" stroke="#000" stroke-width="0.2" textLength="50.13" lengthAdjust="spacingAndGlyphs" transform="rotate(-45 69.20 316.10)" >Zym+H2O2 10uM</text>
<rect x="75.05" y="295.07" width="7.20" height="14.93" fill="#d8d8d8" stroke="#555" stroke-width="0.3"/>
<line x1="78.65" y1="295.07" x2="78.65" y2="291.50" stroke="#333" stroke-width="0.6"/>
<line x1="77.45" y1="291.50" x2="79.85" y2="291.50" stroke="#333" stroke-width="0.6"/>
<line x1="78.65" y1="310.00" x2="78.65" y2="311.90" stroke="#333" stroke-width="0.9"/>
<text x="79.65" y="316.10" font-size="6.5" font-weight="bold" text-anchor="end" fill="#000" stroke="#000" stroke-width="0.2" textLength="53.58" lengthAdjust="spacingAndGlyphs" transform="rotate(-45 79.65 316.10)" >Zym+H2O2 100uM</text>
<rect x="85.50" y="280.27" width="7.20" height="29.73" fill="#a3a3a3" stroke="#555" stroke-width="0.3"/>
<line x1="89.10" y1="310.00" x2="89.10" y2="311.90" stroke="#333" stroke-width="0.9"/>
<text x="90.10" y="316.10" font-size="6.5" font-weight="bold" text-anchor="end" fill="#000" stroke="#000" stroke-width="0.2" textLength="67.36" lengthAdjust="spacingAndGlyphs" transform="rotate(-45 90.10 316.10)" >Zym+Xanthine oxidase</text>
<rect x="95.95" y="266.93" width="7.20" height="43.07" fill="#595959" stroke="#555" stroke-width="0.3"/>
<line x1="99.55" y1="266.93" x2="99.55" y2="263.23" stroke="#333" stroke-width="0.6"/>
<line x1="98.35" y1="263.23" x2="100.75" y2="263.23" stroke="#333" stroke-width="0.6"/>
<line x1="99.55" y1="310.00" x2="99.55" y2="311.90" stroke="#333" stroke-width="0.9"/>
<text x="100.55" y="316.10" font-size="6.5" font-weight="bold" text-anchor="end" fill="#000" stroke="#000" stroke-width="0.2" textLength="41.87" lengthAdjust="spacingAndGlyphs" transform="rotate(-45 100.55 316.10)" >Zym+Catalase</text>
<text x="5.70" y="255.40" font-size="5.7" font-weight="bold" text-anchor="middle" fill="#000" stroke="#000" stroke-width="0.22" textLength="21.0" lengthAdjust="spacingAndGlyphs" transform="rotate(-90 5.70 255.40)" >TNF-α</text>
<text x="16.00" y="255.20" font-size="7.5" font-weight="bold" text-anchor="middle" fill="#000" stroke="#000" stroke-width="0.22" textLength="56.4" lengthAdjust="spacingAndGlyphs" transform="rotate(-90 16.00 255.20)" >(pg per 10<tspan font-size="5.2" dy="-2.6">6</tspan><tspan dy="2.6"> cells)</tspan></text>
<circle cx="44.70" cy="309.00" r="1.15" fill="#000"/>
<circle cx="46.50" cy="308.60" r="1.15" fill="#000"/>
<circle cx="48.30" cy="309.20" r="1.15" fill="#000"/>
<circle cx="57.60" cy="265.60" r="1.15" fill="#000"/>
<polygon points="57.60,275.51 59.09,272.86 56.11,272.86" fill="#000"/>
<circle cx="55.50" cy="278.50" r="1.15" fill="#000"/>
<circle cx="59.40" cy="278.50" r="1.15" fill="#000"/>
<circle cx="57.60" cy="281.40" r="1.15" fill="#000"/>
<rect x="66.95" y="270.05" width="1.90" height="1.90" fill="#000"/>
<polygon points="67.90,274.29 69.40,276.94 66.41,276.94" fill="#000"/>
<circle cx="66.10" cy="280.50" r="1.15" fill="#000"/>
<polygon points="69.80,280.29 71.30,282.94 68.30,282.94" fill="#000"/>
<circle cx="67.90" cy="287.50" r="1.15" fill="#000"/>
<polygon points="78.20,285.61 79.70,282.96 76.70,282.96" fill="#000"/>
<circle cx="78.20" cy="291.10" r="1.15" fill="#000"/>
<circle cx="78.20" cy="295.80" r="1.15" fill="#000"/>
<circle cx="76.40" cy="301.80" r="1.15" fill="#000"/>
<circle cx="80.00" cy="300.00" r="1.15" fill="#000"/>
<circle cx="87.10" cy="276.90" r="1.15" fill="#000"/>
<circle cx="90.20" cy="278.90" r="1.15" fill="#000"/>
<circle cx="88.40" cy="282.70" r="1.15" fill="#000"/>
<circle cx="98.90" cy="254.90" r="1.15" fill="#000"/>
<circle cx="98.90" cy="259.80" r="1.15" fill="#000"/>
<circle cx="97.10" cy="272.30" r="1.15" fill="#000"/>
<circle cx="99.40" cy="273.50" r="1.15" fill="#000"/>
<circle cx="101.20" cy="272.60" r="1.15" fill="#000"/>
<line x1="57.80" y1="250.50" x2="99.00" y2="250.50" stroke="#4a4a4a" stroke-width="1.0"/>
<line x1="57.80" y1="249.60" x2="57.80" y2="251.40" stroke="#333" stroke-width="0.8"/>
<line x1="99.00" y1="249.60" x2="99.00" y2="251.40" stroke="#333" stroke-width="0.8"/>
<polygon points="67.00,246.25 67.51,247.29 68.66,247.46 67.83,248.27 68.03,249.42 67.00,248.88 65.97,249.42 66.17,248.27 65.34,247.46 66.49,247.29" fill="#000"/>
<polygon points="71.30,246.25 71.81,247.29 72.96,247.46 72.13,248.27 72.33,249.42 71.30,248.88 70.27,249.42 70.47,248.27 69.64,247.46 70.79,247.29" fill="#000"/>
<line x1="57.80" y1="259.90" x2="77.80" y2="259.90" stroke="#4a4a4a" stroke-width="1.0"/>
<line x1="57.80" y1="259.00" x2="57.80" y2="260.80" stroke="#333" stroke-width="0.8"/>
<line x1="77.80" y1="259.00" x2="77.80" y2="260.80" stroke="#333" stroke-width="0.8"/>
<polygon points="61.71,254.75 62.22,255.79 63.37,255.96 62.54,256.77 62.73,257.92 61.71,257.38 60.68,257.92 60.87,256.77 60.04,255.96 61.19,255.79" fill="#000"/>
<polygon points="66.04,254.75 66.55,255.79 67.70,255.96 66.87,256.77 67.06,257.92 66.04,257.38 65.01,257.92 65.20,256.77 64.37,255.96 65.52,255.79" fill="#000"/>
<polygon points="70.37,254.75 70.88,255.79 72.03,255.96 71.20,256.77 71.39,257.92 70.37,257.38 69.34,257.92 69.53,256.77 68.70,255.96 69.85,255.79" fill="#000"/>
<polygon points="74.70,254.75 75.21,255.79 76.36,255.96 75.53,256.77 75.72,257.92 74.70,257.38 73.67,257.92 73.86,256.77 73.03,255.96 74.18,255.79" fill="#000"/>
<line x1="170.90" y1="310.50" x2="170.90" y2="204.40" stroke="#4a4a4a" stroke-width="1.0"/>
<line x1="169.20" y1="310.00" x2="170.90" y2="310.00" stroke="#4a4a4a" stroke-width="0.8"/>
<text x="169.00" y="312.16" font-size="6.0" font-weight="bold" text-anchor="end" fill="#000" stroke="#000" stroke-width="0.15" >0</text>
<line x1="169.20" y1="283.60" x2="170.90" y2="283.60" stroke="#4a4a4a" stroke-width="0.8"/>
<text x="169.00" y="285.76" font-size="6.0" font-weight="bold" text-anchor="end" fill="#000" stroke="#000" stroke-width="0.15" >200</text>
<line x1="169.20" y1="257.20" x2="170.90" y2="257.20" stroke="#4a4a4a" stroke-width="0.8"/>
<text x="169.00" y="259.36" font-size="6.0" font-weight="bold" text-anchor="end" fill="#000" stroke="#000" stroke-width="0.15" >400</text>
<line x1="169.20" y1="230.80" x2="170.90" y2="230.80" stroke="#4a4a4a" stroke-width="0.8"/>
<text x="169.00" y="232.96" font-size="6.0" font-weight="bold" text-anchor="end" fill="#000" stroke="#000" stroke-width="0.15" >600</text>
<line x1="169.20" y1="204.40" x2="170.90" y2="204.40" stroke="#4a4a4a" stroke-width="0.8"/>
<text x="169.00" y="206.56" font-size="6.0" font-weight="bold" text-anchor="end" fill="#000" stroke="#000" stroke-width="0.15" >800</text>
<line x1="170.90" y1="310.00" x2="236.50" y2="310.00" stroke="#4a4a4a" stroke-width="1.15"/>
<rect x="173.40" y="308.68" width="7.40" height="1.32" fill="#222" stroke="#555" stroke-width="0.3"/>
<line x1="177.10" y1="310.00" x2="177.10" y2="311.90" stroke="#333" stroke-width="0.9"/>
<text x="178.10" y="316.10" font-size="6.5" font-weight="bold" text-anchor="end" fill="#000" stroke="#000" stroke-width="0.2" textLength="12.05" lengthAdjust="spacingAndGlyphs" transform="rotate(-45 178.10 316.10)" >CTL</text>
<rect x="183.85" y="247.96" width="7.40" height="62.04" fill="#9c9c9c" stroke="#555" stroke-width="0.3"/>
<line x1="187.55" y1="310.00" x2="187.55" y2="311.90" stroke="#333" stroke-width="0.9"/>
<text x="188.55" y="316.10" font-size="6.5" font-weight="bold" text-anchor="end" fill="#000" stroke="#000" stroke-width="0.2" textLength="12.75" lengthAdjust="spacingAndGlyphs" transform="rotate(-45 188.55 316.10)" >Zym</text>
<rect x="194.30" y="252.32" width="7.40" height="57.68" fill="#818181" stroke="#555" stroke-width="0.3"/>
<line x1="198.00" y1="252.32" x2="198.00" y2="250.47" stroke="#333" stroke-width="0.6"/>
<line x1="196.80" y1="250.47" x2="199.20" y2="250.47" stroke="#333" stroke-width="0.6"/>
<line x1="198.00" y1="310.00" x2="198.00" y2="311.90" stroke="#333" stroke-width="0.9"/>
<text x="199.00" y="316.10" font-size="6.5" font-weight="bold" text-anchor="end" fill="#000" stroke="#000" stroke-width="0.2" textLength="50.13" lengthAdjust="spacingAndGlyphs" transform="rotate(-45 199.00 316.10)" >Zym+H2O2 10uM</text>
<rect x="204.75" y="263.40" width="7.40" height="46.60" fill="#d8d8d8" stroke="#555" stroke-width="0.3"/>
<line x1="208.45" y1="310.00" x2="208.45" y2="311.90" stroke="#333" stroke-width="0.9"/>
<text x="209.45" y="316.10" font-size="6.5" font-weight="bold" text-anchor="end" fill="#000" stroke="#000" stroke-width="0.2" textLength="53.58" lengthAdjust="spacingAndGlyphs" transform="rotate(-45 209.45 316.10)" >Zym+H2O2 100uM</text>
<rect x="215.20" y="264.33" width="7.40" height="45.67" fill="#a3a3a3" stroke="#555" stroke-width="0.3"/>
<line x1="218.90" y1="264.33" x2="218.90" y2="259.18" stroke="#333" stroke-width="0.6"/>
<line x1="217.70" y1="259.18" x2="220.10" y2="259.18" stroke="#333" stroke-width="0.6"/>
<line x1="218.90" y1="310.00" x2="218.90" y2="311.90" stroke="#333" stroke-width="0.9"/>
<text x="219.90" y="316.10" font-size="6.5" font-weight="bold" text-anchor="end" fill="#000" stroke="#000" stroke-width="0.2" textLength="67.36" lengthAdjust="spacingAndGlyphs" transform="rotate(-45 219.90 316.10)" >Zym+Xanthine oxidase</text>
<rect x="225.65" y="241.62" width="7.40" height="68.38" fill="#595959" stroke="#555" stroke-width="0.3"/>
<line x1="229.35" y1="241.62" x2="229.35" y2="240.04" stroke="#333" stroke-width="0.6"/>
<line x1="228.15" y1="240.04" x2="230.55" y2="240.04" stroke="#333" stroke-width="0.6"/>
<line x1="229.35" y1="310.00" x2="229.35" y2="311.90" stroke="#333" stroke-width="0.9"/>
<text x="230.35" y="316.10" font-size="6.5" font-weight="bold" text-anchor="end" fill="#000" stroke="#000" stroke-width="0.2" textLength="41.87" lengthAdjust="spacingAndGlyphs" transform="rotate(-45 230.35 316.10)" >Zym+Catalase</text>
<text x="135.30" y="255.40" font-size="5.7" font-weight="bold" text-anchor="middle" fill="#000" stroke="#000" stroke-width="0.22" textLength="21.0" lengthAdjust="spacingAndGlyphs" transform="rotate(-90 135.30 255.40)" >TNF-α</text>
<text x="145.30" y="255.20" font-size="7.5" font-weight="bold" text-anchor="middle" fill="#000" stroke="#000" stroke-width="0.22" textLength="56.4" lengthAdjust="spacingAndGlyphs" transform="rotate(-90 145.30 255.20)" >(pg per 10<tspan font-size="5.2" dy="-2.6">6</tspan><tspan dy="2.6"> cells)</tspan></text>
<circle cx="175.50" cy="308.50" r="1.15" fill="#000"/>
<circle cx="177.50" cy="307.50" r="1.15" fill="#000"/>
<circle cx="179.50" cy="308.80" r="1.15" fill="#000"/>
<circle cx="185.70" cy="243.00" r="1.15" fill="#000"/>
<circle cx="189.10" cy="243.00" r="1.15" fill="#000"/>
<circle cx="187.10" cy="246.10" r="1.15" fill="#000"/>
<circle cx="188.50" cy="248.70" r="1.15" fill="#000"/>
<circle cx="185.70" cy="252.10" r="1.15" fill="#000"/>
<circle cx="189.50" cy="250.00" r="1.15" fill="#000"/>
<circle cx="197.70" cy="244.30" r="1.15" fill="#000"/>
<polygon points="199.40,250.59 200.90,253.23 197.91,253.23" fill="#000"/>
<circle cx="199.40" cy="255.60" r="1.15" fill="#000"/>
<circle cx="196.00" cy="257.80" r="1.15" fill="#000"/>
<circle cx="208.50" cy="255.30" r="1.15" fill="#000"/>
<circle cx="208.50" cy="263.30" r="1.15" fill="#000"/>
<circle cx="206.70" cy="266.50" r="1.15" fill="#000"/>
<circle cx="210.10" cy="266.00" r="1.15" fill="#000"/>
<circle cx="208.50" cy="274.80" r="1.15" fill="#000"/>
<rect x="217.55" y="251.55" width="2.30" height="2.30" fill="#000"/>
<circle cx="218.70" cy="267.30" r="1.15" fill="#000"/>
<circle cx="218.70" cy="271.30" r="1.15" fill="#000"/>
<circle cx="228.80" cy="233.50" r="1.15" fill="#000"/>
<circle cx="228.00" cy="239.30" r="1.15" fill="#000"/>
<circle cx="231.50" cy="242.00" r="1.15" fill="#000"/>
<circle cx="227.50" cy="246.00" r="1.15" fill="#000"/>
<circle cx="231.00" cy="245.00" r="1.15" fill="#000"/>
<line x1="186.70" y1="221.00" x2="219.60" y2="221.00" stroke="#4a4a4a" stroke-width="1.0"/>
<line x1="186.70" y1="220.10" x2="186.70" y2="221.90" stroke="#333" stroke-width="0.8"/>
<line x1="219.60" y1="220.10" x2="219.60" y2="221.90" stroke="#333" stroke-width="0.8"/>
<polygon points="197.80,216.05 198.31,217.09 199.46,217.26 198.63,218.07 198.83,219.22 197.80,218.68 196.77,219.22 196.97,218.07 196.14,217.26 197.29,217.09" fill="#000"/>
<line x1="186.70" y1="229.10" x2="208.30" y2="229.10" stroke="#4a4a4a" stroke-width="1.0"/>
<line x1="186.70" y1="228.20" x2="186.70" y2="230.00" stroke="#333" stroke-width="0.8"/>
<line x1="208.30" y1="228.20" x2="208.30" y2="230.00" stroke="#333" stroke-width="0.8"/>
<polygon points="195.60,224.75 196.11,225.79 197.26,225.96 196.43,226.77 196.63,227.92 195.60,227.38 194.57,227.92 194.77,226.77 193.94,225.96 195.09,225.79" fill="#000"/>
<polygon points="199.90,224.75 200.41,225.79 201.56,225.96 200.73,226.77 200.93,227.92 199.90,227.38 198.87,227.92 199.07,226.77 198.24,225.96 199.39,225.79" fill="#000"/>
<line x1="309.60" y1="310.50" x2="309.60" y2="204.40" stroke="#4a4a4a" stroke-width="1.0"/>
<line x1="307.90" y1="310.00" x2="309.60" y2="310.00" stroke="#4a4a4a" stroke-width="0.8"/>
<text x="307.70" y="312.16" font-size="6.0" font-weight="bold" text-anchor="end" fill="#000" stroke="#000" stroke-width="0.15" >0</text>
<line x1="307.90" y1="288.88" x2="309.60" y2="288.88" stroke="#4a4a4a" stroke-width="0.8"/>
<text x="307.70" y="291.04" font-size="6.0" font-weight="bold" text-anchor="end" fill="#000" stroke="#000" stroke-width="0.15" >100</text>
<line x1="307.90" y1="267.76" x2="309.60" y2="267.76" stroke="#4a4a4a" stroke-width="0.8"/>
<text x="307.70" y="269.92" font-size="6.0" font-weight="bold" text-anchor="end" fill="#000" stroke="#000" stroke-width="0.15" >200</text>
<line x1="307.90" y1="246.64" x2="309.60" y2="246.64" stroke="#4a4a4a" stroke-width="0.8"/>
<text x="307.70" y="248.80" font-size="6.0" font-weight="bold" text-anchor="end" fill="#000" stroke="#000" stroke-width="0.15" >300</text>
<line x1="307.90" y1="225.52" x2="309.60" y2="225.52" stroke="#4a4a4a" stroke-width="0.8"/>
<text x="307.70" y="227.68" font-size="6.0" font-weight="bold" text-anchor="end" fill="#000" stroke="#000" stroke-width="0.15" >400</text>
<line x1="307.90" y1="204.40" x2="309.60" y2="204.40" stroke="#4a4a4a" stroke-width="0.8"/>
<text x="307.70" y="206.56" font-size="6.0" font-weight="bold" text-anchor="end" fill="#000" stroke="#000" stroke-width="0.15" >500</text>
<line x1="309.60" y1="310.00" x2="376.00" y2="310.00" stroke="#4a4a4a" stroke-width="1.15"/>
<rect x="313.90" y="309.58" width="7.00" height="0.42" fill="#222" stroke="#555" stroke-width="0.3"/>
<line x1="317.40" y1="310.00" x2="317.40" y2="311.90" stroke="#333" stroke-width="0.9"/>
<text x="318.40" y="316.10" font-size="6.5" font-weight="bold" text-anchor="end" fill="#000" stroke="#000" stroke-width="0.2" textLength="12.05" lengthAdjust="spacingAndGlyphs" transform="rotate(-45 318.40 316.10)" >CTL</text>
<rect x="324.35" y="281.70" width="7.00" height="28.30" fill="#9c9c9c" stroke="#555" stroke-width="0.3"/>
<line x1="327.85" y1="281.70" x2="327.85" y2="273.46" stroke="#333" stroke-width="0.6"/>
<line x1="326.65" y1="273.46" x2="329.05" y2="273.46" stroke="#333" stroke-width="0.6"/>
<line x1="327.85" y1="310.00" x2="327.85" y2="311.90" stroke="#333" stroke-width="0.9"/>
<text x="328.85" y="316.10" font-size="6.5" font-weight="bold" text-anchor="end" fill="#000" stroke="#000" stroke-width="0.2" textLength="12.75" lengthAdjust="spacingAndGlyphs" transform="rotate(-45 328.85 316.10)" >Zym</text>
<rect x="334.80" y="281.70" width="7.00" height="28.30" fill="#818181" stroke="#555" stroke-width="0.3"/>
<line x1="338.30" y1="281.70" x2="338.30" y2="274.10" stroke="#333" stroke-width="0.6"/>
<line x1="337.10" y1="274.10" x2="339.50" y2="274.10" stroke="#333" stroke-width="0.6"/>
<line x1="338.30" y1="310.00" x2="338.30" y2="311.90" stroke="#333" stroke-width="0.9"/>
<text x="339.30" y="316.10" font-size="6.5" font-weight="bold" text-anchor="end" fill="#000" stroke="#000" stroke-width="0.2" textLength="50.13" lengthAdjust="spacingAndGlyphs" transform="rotate(-45 339.30 316.10)" >Zym+H2O2 10uM</text>
<rect x="345.25" y="295.22" width="7.00" height="14.78" fill="#d8d8d8" stroke="#555" stroke-width="0.3"/>
<line x1="348.75" y1="310.00" x2="348.75" y2="311.90" stroke="#333" stroke-width="0.9"/>
<text x="349.75" y="316.10" font-size="6.5" font-weight="bold" text-anchor="end" fill="#000" stroke="#000" stroke-width="0.2" textLength="53.58" lengthAdjust="spacingAndGlyphs" transform="rotate(-45 349.75 316.10)" >Zym+H2O2 100uM</text>
<rect x="355.70" y="257.20" width="7.00" height="52.80" fill="#a3a3a3" stroke="#555" stroke-width="0.3"/>
<line x1="359.20" y1="257.20" x2="359.20" y2="248.12" stroke="#333" stroke-width="0.6"/>
<line x1="358.00" y1="248.12" x2="360.40" y2="248.12" stroke="#333" stroke-width="0.6"/>
<line x1="359.20" y1="310.00" x2="359.20" y2="311.90" stroke="#333" stroke-width="0.9"/>
<text x="360.20" y="316.10" font-size="6.5" font-weight="bold" text-anchor="end" fill="#000" stroke="#000" stroke-width="0.2" textLength="67.36" lengthAdjust="spacingAndGlyphs" transform="rotate(-45 360.20 316.10)" >Zym+Xanthine oxidase</text>
<rect x="366.15" y="245.48" width="7.00" height="64.52" fill="#595959" stroke="#555" stroke-width="0.3"/>
<line x1="369.65" y1="245.48" x2="369.65" y2="238.61" stroke="#333" stroke-width="0.6"/>
<line x1="368.45" y1="238.61" x2="370.85" y2="238.61" stroke="#333" stroke-width="0.6"/>
<line x1="369.65" y1="310.00" x2="369.65" y2="311.90" stroke="#333" stroke-width="0.9"/>
<text x="370.65" y="316.10" font-size="6.5" font-weight="bold" text-anchor="end" fill="#000" stroke="#000" stroke-width="0.2" textLength="41.87" lengthAdjust="spacingAndGlyphs" transform="rotate(-45 370.65 316.10)" >Zym+Catalase</text>
<text x="277.80" y="255.00" font-size="6.4" font-weight="bold" text-anchor="middle" fill="#000" stroke="#000" stroke-width="0.22" textLength="21.9" lengthAdjust="spacingAndGlyphs" transform="rotate(-90 277.80 255.00)" >CXCL2</text>
<text x="287.20" y="255.20" font-size="7.5" font-weight="bold" text-anchor="middle" fill="#000" stroke="#000" stroke-width="0.22" textLength="56.4" lengthAdjust="spacingAndGlyphs" transform="rotate(-90 287.20 255.20)" >(pg per 10<tspan font-size="5.2" dy="-2.6">6</tspan><tspan dy="2.6"> cells)</tspan></text>
<circle cx="315.00" cy="309.00" r="1.15" fill="#000"/>
<circle cx="317.00" cy="308.70" r="1.15" fill="#000"/>
<circle cx="319.00" cy="309.00" r="1.15" fill="#000"/>
<rect x="326.05" y="253.65" width="2.30" height="2.30" fill="#000"/>
<circle cx="327.20" cy="268.70" r="1.15" fill="#000"/>
<circle cx="327.20" cy="289.50" r="1.15" fill="#000"/>
<circle cx="329.30" cy="294.00" r="1.15" fill="#000"/>
<circle cx="325.30" cy="296.70" r="1.15" fill="#000"/>
<polygon points="337.90,259.59 339.39,262.24 336.40,262.24" fill="#000"/>
<circle cx="337.90" cy="274.00" r="1.15" fill="#000"/>
<circle cx="337.90" cy="285.50" r="1.15" fill="#000"/>
<circle cx="337.90" cy="290.00" r="1.15" fill="#000"/>
<circle cx="337.90" cy="294.80" r="1.15" fill="#000"/>
<polygon points="348.50,287.11 350.00,284.46 347.00,284.46" fill="#000"/>
<circle cx="348.50" cy="292.70" r="1.15" fill="#000"/>
<circle cx="346.70" cy="295.90" r="1.15" fill="#000"/>
<circle cx="350.00" cy="296.00" r="1.15" fill="#000"/>
<circle cx="346.50" cy="298.50" r="1.15" fill="#000"/>
<circle cx="349.50" cy="299.00" r="1.15" fill="#000"/>
<rect x="357.55" y="238.15" width="2.30" height="2.30" fill="#000"/>
<circle cx="357.30" cy="266.00" r="1.15" fill="#000"/>
<circle cx="360.00" cy="265.20" r="1.15" fill="#000"/>
<circle cx="369.20" cy="226.60" r="1.15" fill="#000"/>
<circle cx="369.20" cy="233.60" r="1.15" fill="#000"/>
<circle cx="369.20" cy="246.20" r="1.15" fill="#000"/>
<circle cx="367.50" cy="259.30" r="1.15" fill="#000"/>
<circle cx="370.70" cy="258.00" r="1.15" fill="#000"/>
<line x1="327.80" y1="220.00" x2="369.80" y2="220.00" stroke="#4a4a4a" stroke-width="1.0"/>
<line x1="327.80" y1="219.10" x2="327.80" y2="220.90" stroke="#333" stroke-width="0.8"/>
<line x1="369.80" y1="219.10" x2="369.80" y2="220.90" stroke="#333" stroke-width="0.8"/>
<polygon points="349.00,214.75 349.51,215.79 350.66,215.96 349.83,216.77 350.03,217.92 349.00,217.38 347.97,217.92 348.17,216.77 347.34,215.96 348.49,215.79" fill="#000"/>
<line x1="452.80" y1="310.50" x2="452.80" y2="204.40" stroke="#4a4a4a" stroke-width="1.0"/>
<line x1="451.10" y1="310.00" x2="452.80" y2="310.00" stroke="#4a4a4a" stroke-width="0.8"/>
<text x="450.90" y="312.16" font-size="6.0" font-weight="bold" text-anchor="end" fill="#000" stroke="#000" stroke-width="0.15" >0</text>
<line x1="451.10" y1="288.88" x2="452.80" y2="288.88" stroke="#4a4a4a" stroke-width="0.8"/>
<text x="450.90" y="291.04" font-size="6.0" font-weight="bold" text-anchor="end" fill="#000" stroke="#000" stroke-width="0.15" >500</text>
<line x1="451.10" y1="267.76" x2="452.80" y2="267.76" stroke="#4a4a4a" stroke-width="0.8"/>
<text x="450.90" y="269.92" font-size="6.0" font-weight="bold" text-anchor="end" fill="#000" stroke="#000" stroke-width="0.15" >1000</text>
<line x1="451.10" y1="246.64" x2="452.80" y2="246.64" stroke="#4a4a4a" stroke-width="0.8"/>
<text x="450.90" y="248.80" font-size="6.0" font-weight="bold" text-anchor="end" fill="#000" stroke="#000" stroke-width="0.15" >1500</text>
<line x1="451.10" y1="225.52" x2="452.80" y2="225.52" stroke="#4a4a4a" stroke-width="0.8"/>
<text x="450.90" y="227.68" font-size="6.0" font-weight="bold" text-anchor="end" fill="#000" stroke="#000" stroke-width="0.15" >2000</text>
<line x1="451.10" y1="204.40" x2="452.80" y2="204.40" stroke="#4a4a4a" stroke-width="0.8"/>
<text x="450.90" y="206.56" font-size="6.0" font-weight="bold" text-anchor="end" fill="#000" stroke="#000" stroke-width="0.15" >2500</text>
<line x1="452.80" y1="310.00" x2="518.80" y2="310.00" stroke="#4a4a4a" stroke-width="1.15"/>
<rect x="455.95" y="309.16" width="7.50" height="0.84" fill="#222" stroke="#555" stroke-width="0.3"/>
<line x1="459.70" y1="310.00" x2="459.70" y2="311.90" stroke="#333" stroke-width="0.9"/>
<text x="460.70" y="316.10" font-size="6.5" font-weight="bold" text-anchor="end" fill="#000" stroke="#000" stroke-width="0.2" textLength="12.05" lengthAdjust="spacingAndGlyphs" transform="rotate(-45 460.70 316.10)" >CTL</text>
<rect x="466.40" y="255.09" width="7.50" height="54.91" fill="#9c9c9c" stroke="#555" stroke-width="0.3"/>
<line x1="470.15" y1="255.09" x2="470.15" y2="245.80" stroke="#333" stroke-width="0.6"/>
<line x1="468.95" y1="245.80" x2="471.35" y2="245.80" stroke="#333" stroke-width="0.6"/>
<line x1="470.15" y1="310.00" x2="470.15" y2="311.90" stroke="#333" stroke-width="0.9"/>
<text x="471.15" y="316.10" font-size="6.5" font-weight="bold" text-anchor="end" fill="#000" stroke="#000" stroke-width="0.2" textLength="12.75" lengthAdjust="spacingAndGlyphs" transform="rotate(-45 471.15 316.10)" >Zym</text>
<rect x="476.85" y="259.73" width="7.50" height="50.27" fill="#818181" stroke="#555" stroke-width="0.3"/>
<line x1="480.60" y1="259.73" x2="480.60" y2="251.29" stroke="#333" stroke-width="0.6"/>
<line x1="479.40" y1="251.29" x2="481.80" y2="251.29" stroke="#333" stroke-width="0.6"/>
<line x1="480.60" y1="310.00" x2="480.60" y2="311.90" stroke="#333" stroke-width="0.9"/>
<text x="481.60" y="316.10" font-size="6.5" font-weight="bold" text-anchor="end" fill="#000" stroke="#000" stroke-width="0.2" textLength="50.13" lengthAdjust="spacingAndGlyphs" transform="rotate(-45 481.60 316.10)" >Zym+H2O2 10uM</text>
<rect x="487.30" y="272.41" width="7.50" height="37.59" fill="#d8d8d8" stroke="#555" stroke-width="0.3"/>
<line x1="491.05" y1="272.41" x2="491.05" y2="267.76" stroke="#333" stroke-width="0.6"/>
<line x1="489.85" y1="267.76" x2="492.25" y2="267.76" stroke="#333" stroke-width="0.6"/>
<line x1="491.05" y1="310.00" x2="491.05" y2="311.90" stroke="#333" stroke-width="0.9"/>
<text x="492.05" y="316.10" font-size="6.5" font-weight="bold" text-anchor="end" fill="#000" stroke="#000" stroke-width="0.2" textLength="53.58" lengthAdjust="spacingAndGlyphs" transform="rotate(-45 492.05 316.10)" >Zym+H2O2 100uM</text>
<rect x="497.75" y="280.43" width="7.50" height="29.57" fill="#a3a3a3" stroke="#555" stroke-width="0.3"/>
<line x1="501.50" y1="280.43" x2="501.50" y2="277.05" stroke="#333" stroke-width="0.6"/>
<line x1="500.30" y1="277.05" x2="502.70" y2="277.05" stroke="#333" stroke-width="0.6"/>
<line x1="501.50" y1="310.00" x2="501.50" y2="311.90" stroke="#333" stroke-width="0.9"/>
<text x="502.50" y="316.10" font-size="6.5" font-weight="bold" text-anchor="end" fill="#000" stroke="#000" stroke-width="0.2" textLength="67.36" lengthAdjust="spacingAndGlyphs" transform="rotate(-45 502.50 316.10)" >Zym+Xanthine oxidase</text>
<rect x="508.20" y="245.80" width="7.50" height="64.20" fill="#595959" stroke="#555" stroke-width="0.3"/>
<line x1="511.95" y1="245.80" x2="511.95" y2="236.08" stroke="#333" stroke-width="0.6"/>
<line x1="510.75" y1="236.08" x2="513.15" y2="236.08" stroke="#333" stroke-width="0.6"/>
<line x1="511.95" y1="310.00" x2="511.95" y2="311.90" stroke="#333" stroke-width="0.9"/>
<text x="512.95" y="316.10" font-size="6.5" font-weight="bold" text-anchor="end" fill="#000" stroke="#000" stroke-width="0.2" textLength="41.87" lengthAdjust="spacingAndGlyphs" transform="rotate(-45 512.95 316.10)" >Zym+Catalase</text>
<text x="417.20" y="255.00" font-size="6.4" font-weight="bold" text-anchor="middle" fill="#000" stroke="#000" stroke-width="0.22" textLength="21.9" lengthAdjust="spacingAndGlyphs" transform="rotate(-90 417.20 255.00)" >CXCL2</text>
<text x="425.90" y="255.20" font-size="7.5" font-weight="bold" text-anchor="middle" fill="#000" stroke="#000" stroke-width="0.22" textLength="56.4" lengthAdjust="spacingAndGlyphs" transform="rotate(-90 425.90 255.20)" >(pg per 10<tspan font-size="5.2" dy="-2.6">6</tspan><tspan dy="2.6"> cells)</tspan></text>
<circle cx="457.70" cy="309.00" r="1.15" fill="#000"/>
<circle cx="459.70" cy="308.80" r="1.15" fill="#000"/>
<circle cx="461.60" cy="309.00" r="1.15" fill="#000"/>
<circle cx="470.20" cy="227.30" r="1.15" fill="#000"/>
<circle cx="469.80" cy="240.50" r="1.15" fill="#000"/>
<circle cx="469.80" cy="261.00" r="1.15" fill="#000"/>
<circle cx="468.40" cy="273.30" r="1.15" fill="#000"/>
<circle cx="472.00" cy="271.70" r="1.15" fill="#000"/>
<polygon points="480.50,229.09 482.00,231.73 479.00,231.73" fill="#000"/>
<circle cx="478.90" cy="274.70" r="1.15" fill="#000"/>
<circle cx="481.20" cy="269.40" r="1.15" fill="#000"/>
<circle cx="482.30" cy="271.70" r="1.15" fill="#000"/>
<circle cx="490.70" cy="255.70" r="1.15" fill="#000"/>
<circle cx="490.70" cy="270.40" r="1.15" fill="#000"/>
<circle cx="489.00" cy="271.80" r="1.15" fill="#000"/>
<circle cx="492.00" cy="272.00" r="1.15" fill="#000"/>
<circle cx="490.70" cy="285.60" r="1.15" fill="#000"/>
<rect x="500.45" y="269.85" width="2.30" height="2.30" fill="#000"/>
<circle cx="500.10" cy="284.50" r="1.15" fill="#000"/>
<circle cx="503.00" cy="282.70" r="1.15" fill="#000"/>
<circle cx="501.60" cy="286.00" r="1.15" fill="#000"/>
<circle cx="511.90" cy="219.10" r="1.15" fill="#000"/>
<circle cx="511.90" cy="228.40" r="1.15" fill="#000"/>
<circle cx="511.90" cy="254.30" r="1.15" fill="#000"/>
<circle cx="511.90" cy="258.70" r="1.15" fill="#000"/>
<circle cx="511.90" cy="268.00" r="1.15" fill="#000"/>
<line x1="470.40" y1="208.70" x2="502.10" y2="208.70" stroke="#4a4a4a" stroke-width="1.0"/>
<line x1="470.40" y1="207.80" x2="470.40" y2="209.60" stroke="#333" stroke-width="0.8"/>
<line x1="502.10" y1="207.80" x2="502.10" y2="209.60" stroke="#333" stroke-width="0.8"/>
<polygon points="478.80,203.75 479.31,204.79 480.46,204.96 479.63,205.77 479.83,206.92 478.80,206.38 477.77,206.92 477.97,205.77 477.14,204.96 478.29,204.79" fill="#000"/>
<polygon points="483.30,203.75 483.81,204.79 484.96,204.96 484.13,205.77 484.33,206.92 483.30,206.38 482.27,206.92 482.47,205.77 481.64,204.96 482.79,204.79" fill="#000"/>
<line x1="470.40" y1="219.70" x2="490.50" y2="219.70" stroke="#4a4a4a" stroke-width="1.0"/>
<line x1="470.40" y1="218.80" x2="470.40" y2="220.60" stroke="#333" stroke-width="0.8"/>
<line x1="490.50" y1="218.80" x2="490.50" y2="220.60" stroke="#333" stroke-width="0.8"/>
<polygon points="481.10,214.15 481.61,215.19 482.76,215.36 481.93,216.17 482.13,217.32 481.10,216.78 480.07,217.32 480.27,216.17 479.44,215.36 480.59,215.19" fill="#000"/>
</g></svg></body></html>
